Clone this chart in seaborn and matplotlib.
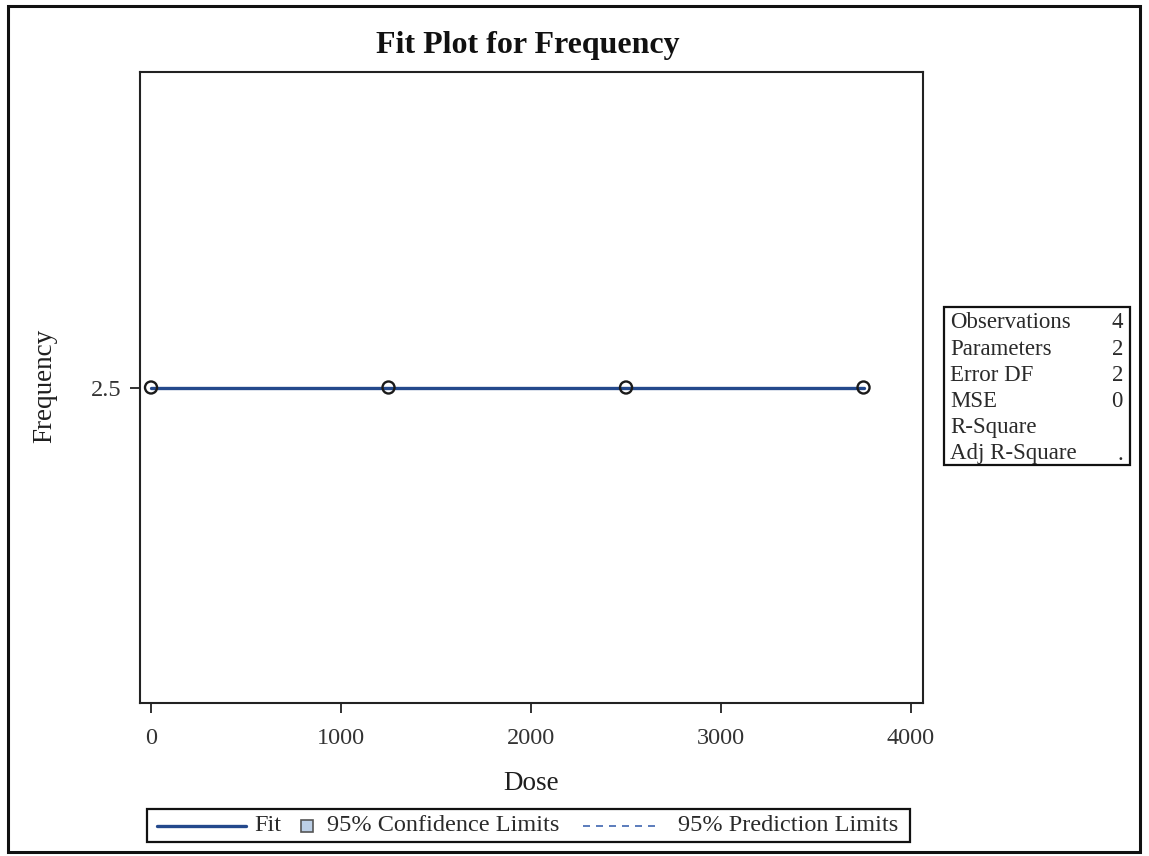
import matplotlib
matplotlib.use("Agg")
import matplotlib.pyplot as plt
from matplotlib.lines import Line2D
from matplotlib.patches import Rectangle
import seaborn as sns
import pandas as pd

dose = [0, 1250, 2500, 3750]
frequency = [2.5, 2.5, 2.5, 2.5]
fit = [2.5, 2.5, 2.5, 2.5]
clm_lower = [2.5, 2.5, 2.5, 2.5]
clm_upper = [2.5, 2.5, 2.5, 2.5]
pred_lower = [2.5, 2.5, 2.5, 2.5]
pred_upper = [2.5, 2.5, 2.5, 2.5]
x_ticks = [0, 1000, 2000, 3000, 4000]
y_ticks = [2.5]
stat_names = ["Observations", "Parameters", "Error DF", "MSE", "R-Square", "Adj R-Square"]
stat_values = ["4", "2", "2", "0", "", "."]
legend_labels = ["Fit", "95% Confidence Limits", "95% Prediction Limits"]

sns.set_theme(style="white")
plt.rcParams['font.family'] = ['Liberation Serif', 'DejaVu Serif']

df = pd.DataFrame({"Dose": dose, "Frequency": frequency, "Fit": fit,
                   "L": clm_lower, "U": clm_upper, "PL": pred_lower, "PU": pred_upper})

W, H = 1149, 856
fig = plt.figure(figsize=(W / 100, H / 100), dpi=100)
ax_l, ax_t, ax_r, ax_b = 140, 72, 923, 703
ax = fig.add_axes([ax_l / W, 1 - ax_b / H, (ax_r - ax_l) / W, (ax_b - ax_t) / H])

def fx(px):
    return px / W

def fy(py):
    return 1 - py / H

line_col = "#24498C"
dash_col = "#3F66B0"
band_col = "#BCCFE6"
txt_col = "#1E1E1E"
dash_style = (0, (4.2, 3.6))

ax.fill_between(df["Dose"], df["L"], df["U"], color=band_col, lw=0)
sns.lineplot(data=df, x="Dose", y="PL", ax=ax, color=dash_col, lw=1.2, ls=dash_style)
sns.lineplot(data=df, x="Dose", y="PU", ax=ax, color=dash_col, lw=1.2, ls=dash_style)
sns.lineplot(data=df, x="Dose", y="Fit", ax=ax, color=line_col, lw=2.4)
sns.scatterplot(data=df, x="Dose", y="Frequency", ax=ax, s=75, facecolor="none",
                edgecolor="#1a1a1a", linewidth=1.7, marker="o", zorder=5)

ax.set_xlim(-58, 4063)
ax.set_ylim(2.0, 3.0)
ax.set_xticks(x_ticks)
ax.set_xticklabels([str(v) for v in x_ticks])
ax.set_yticks(y_ticks)
ax.set_yticklabels([str(v) for v in y_ticks])
ax.tick_params(axis="x", direction="out", length=7, width=1.3, color="#222222",
               labelsize=17.5, labelcolor="#333333", pad=11, bottom=True)
ax.tick_params(axis="y", direction="out", length=7, width=1.3, color="#222222",
               labelsize=17.5, labelcolor="#333333", pad=6, left=True)
for sp in ax.spines.values():
    sp.set_color("#222222")
    sp.set_linewidth(1.5)

ax.set_xlabel("Dose", fontsize=19.5, color=txt_col)
ax.xaxis.label.set_va("center")
ax.xaxis.set_label_coords(0.5, (ax_b - 783) / (ax_b - ax_t))
ax.set_ylabel("Frequency", fontsize=19.5, color=txt_col)
ax.yaxis.label.set_va("center")
ax.yaxis.set_label_coords((45 - ax_l) / (ax_r - ax_l), (ax_b - 386) / (ax_b - ax_t))

fig.text(fx(528), fy(46), "Fit Plot for Frequency", fontsize=23, fontweight="bold",
         ha="center", va="center", color="#111111")

# outer border
fig.patches.append(Rectangle((fx(8), fy(852)), (1140 - 8) / W, (852 - 6) / H,
                             transform=fig.transFigure, fill=False, edgecolor="#111111", lw=2.2))

# stats box
bx0, by0, bx1, by1 = 944, 307, 1130, 465
fig.patches.append(Rectangle((fx(bx0), fy(by1)), (bx1 - bx0) / W, (by1 - by0) / H,
                             transform=fig.transFigure, fill=False, edgecolor="#111111", lw=1.6))
for i, (n, v) in enumerate(zip(stat_names, stat_values)):
    yy = fy(323 + i * 26.2)
    fig.text(fx(950), yy, n, fontsize=16.5, va="center", ha="left", color="#2a2a2a")
    fig.text(fx(1123), yy, v, fontsize=16.5, va="center", ha="right", color="#2a2a2a")

# legend (drawn box with entries)
ly = 825.5
fig.patches.append(Rectangle((fx(147), fy(842)), (910 - 147) / W, (842 - 809) / H,
                             transform=fig.transFigure, fill=False, edgecolor="#111111", lw=1.6))
fig.add_artist(Line2D([fx(157), fx(246)], [fy(ly), fy(ly)], color=line_col, lw=2.4,
                      transform=fig.transFigure))
fig.text(fx(254), fy(ly), legend_labels[0], fontsize=17.5, va="center", ha="left", color="#2a2a2a")
fig.add_artist(Line2D([fx(307)], [fy(ly)], marker="s", ls="none", markersize=9,
                      markerfacecolor=band_col, markeredgecolor="#555555", markeredgewidth=1.2,
                      transform=fig.transFigure))
fig.text(fx(327), fy(ly), legend_labels[1], fontsize=17.5, va="center", ha="left", color="#2a2a2a")
fig.add_artist(Line2D([fx(583), fx(659)], [fy(ly), fy(ly)], color=dash_col, lw=1.2,
                      ls=dash_style, transform=fig.transFigure))
fig.text(fx(678), fy(ly), legend_labels[2], fontsize=17.5, va="center", ha="left", color="#2a2a2a")

fig.savefig("out.png", dpi=100, facecolor="white")
